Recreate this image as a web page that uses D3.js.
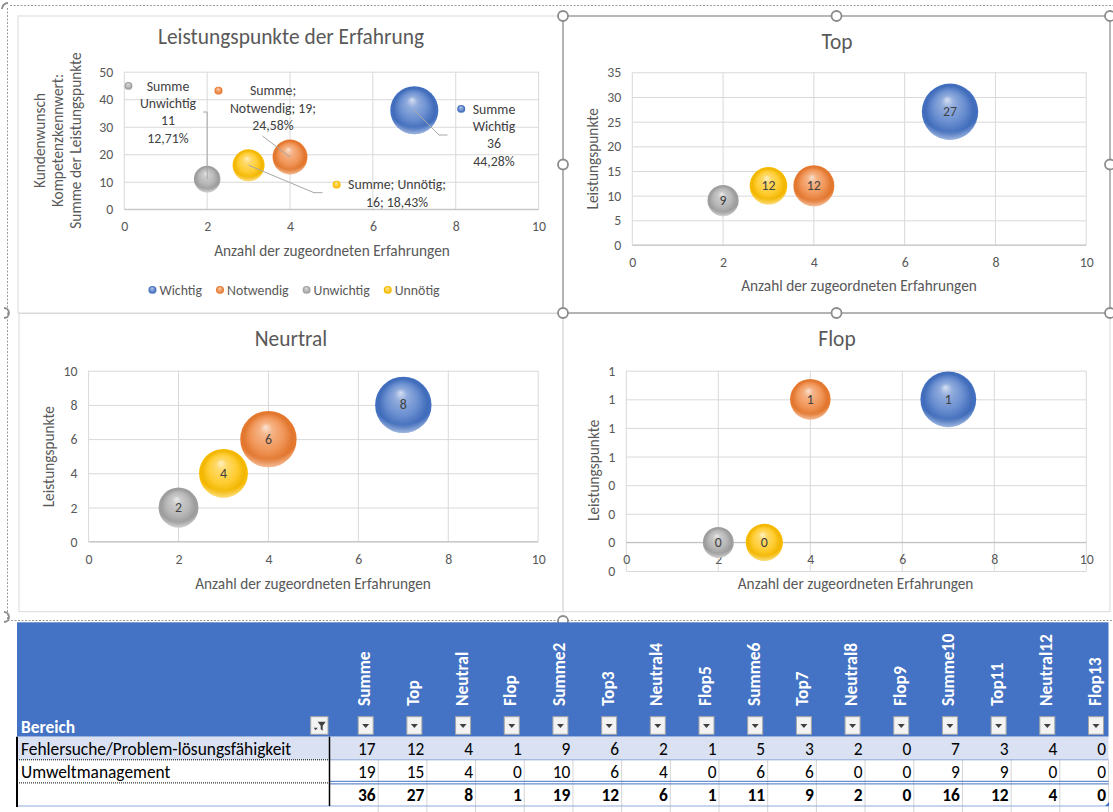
<!DOCTYPE html>
<html>
<head>
<meta charset="utf-8">
<script src="https://cdn.jsdelivr.net/npm/d3@7"></script>
<style>
  html, body { margin: 0; padding: 0; background: #fff; }
  svg { display: block; }
  text { font-family: Carlito, Lato, "Open Sans", sans-serif; }
</style>
</head>
<body>
<svg id="sheet" width="1113" height="812"></svg>
<script>
// ---------- data ----------
const seriesNames   = ["Wichtig", "Notwendig", "Unwichtig", "Unnötig"];
const seriesColors  = ["#4472C4", "#ED7D31", "#A5A5A5", "#FFC000"];
const erfahrungen   = [7, 4, 2, 3];          // Anzahl der zugeordneten Erfahrungen
const summePunkte   = [36, 19, 11, 16];
const topPunkte     = [27, 12, 9, 12];
const neutralPunkte = [8, 6, 2, 4];
const flopPunkte    = [1, 1, 0, 0];
const neutralBubble = [8, 8, 4, 6];          // bubble sizes used in the Neutral chart
const summeAnteil   = ["44,28%", "24,58%", "12,71%", "18,43%"];

const xTicks       = [0, 2, 4, 6, 8, 10];
const summeTicks   = [0, 10, 20, 30, 40, 50];
const topTicks     = [0, 5, 10, 15, 20, 25, 30, 35];
const neutralTicks = [0, 2, 4, 6, 8, 10];
const flopTicks    = [-0.2, 0, 0.2, 0.4, 0.6, 0.8, 1.0, 1.2];

const tableHeaders = ["Summe", "Top", "Neutral", "Flop", "Summe2", "Top3", "Neutral4", "Flop5",
                      "Summe6", "Top7", "Neutral8", "Flop9", "Summe10", "Top11", "Neutral12", "Flop13"];
const bereiche       = ["Fehlersuche/Problem-lösungsfähigkeit", "Umweltmanagement", ""];
const fehlersucheRow = [17, 12, 4, 1, 9, 6, 2, 1, 5, 3, 2, 0, 7, 3, 4, 0];
const umweltRow      = [19, 15, 4, 0, 10, 6, 4, 0, 6, 6, 0, 0, 9, 9, 0, 0];
const ergebnisRow    = [36, 27, 8, 1, 19, 12, 6, 1, 11, 9, 2, 0, 16, 12, 4, 0];

// ---------- drawing ----------
const svg = d3.select("#sheet");
const TXT = "#595959";
const FS_TITLE = 21.4, FS_AXIS = 15.3, FS_TICK = 13.8, FS_CELL = 17.4;

// sphere-like fills for the bubbles
const defs = svg.append("defs");
seriesColors.forEach((c, i) => {
  const base = d3.color(c);
  const mix = t => d3.interpolateRgb(c, "#fff")(t);
  const g = defs.append("radialGradient").attr("id", "ball" + i)
    .attr("cx", "50%").attr("cy", "50%").attr("r", "50%").attr("fx", "45%").attr("fy", "28%");
  g.append("stop").attr("offset", "0%").attr("stop-color", mix(0.78));
  g.append("stop").attr("offset", "22%").attr("stop-color", mix(0.42));
  g.append("stop").attr("offset", "58%").attr("stop-color", mix(0.2));
  g.append("stop").attr("offset", "86%").attr("stop-color", base.darker(0.15));
  g.append("stop").attr("offset", "100%").attr("stop-color", base.darker(0.05));
});
const rim = defs.append("radialGradient").attr("id", "rim")
  .attr("cx", "50%").attr("cy", "22%").attr("r", "78%");
rim.append("stop").attr("offset", "80%").attr("stop-color", "#fff").attr("stop-opacity", 0);
rim.append("stop").attr("offset", "100%").attr("stop-color", "#fff").attr("stop-opacity", 0.5);

function ball(g, cx, cy, r, i) {
  g.append("circle").attr("cx", cx).attr("cy", cy).attr("r", r).attr("fill", `url(#ball${i})`);
  g.append("circle").attr("cx", cx).attr("cy", cy).attr("r", r).attr("fill", "url(#rim)");
}

// sheet frame of the chart group
svg.append("path").attr("d", "M10,5.5H1113M7.5,8V621M7.5,620.5H1113")
  .attr("fill", "none").attr("stroke", "#9a9a9a").attr("stroke-dasharray", "2,1.5");

// chart boxes
const boxes = [
  { x: 18, y: 16, w: 545, h: 297, c: "#d9d9d9", sw: 1 },
  { x: 19, y: 313.5, w: 544, h: 298.2, c: "#d9d9d9", sw: 1 },
  { x: 563, y: 313, w: 547, h: 298.7, c: "#d9d9d9", sw: 1 },
  { x: 563, y: 16, w: 547, h: 297, c: "#a6a6a6", sw: 1.6 }
];
svg.append("g").selectAll("rect").data(boxes).join("rect")
  .attr("x", d => d.x).attr("y", d => d.y).attr("width", d => d.w).attr("height", d => d.h)
  .attr("fill", "none").attr("stroke", d => d.c).attr("stroke-width", d => d.sw);

function bubbleChart(cfg) {
  const g = svg.append("g");
  const P = cfg.plot;
  const x = d3.scaleLinear().domain([0, 10]).range([P.l, P.r]);
  const y = d3.scaleLinear().domain([cfg.yTicks[0], cfg.yTicks[cfg.yTicks.length - 1]]).range([P.b, P.t]);
  const r = d3.scaleSqrt().domain([0, d3.max(cfg.sizes)]).range([0, cfg.maxR]);
  const fmt = cfg.yFormat || (d => String(d));

  // horizontal grid + value labels
  const ya = g.append("g").attr("transform", `translate(${P.l},0)`)
    .call(d3.axisLeft(y).tickValues(cfg.yTicks).tickSize(-(P.r - P.l)).tickPadding(11).tickFormat(fmt));
  ya.select(".domain").remove();
  ya.selectAll("line").attr("stroke", "#d9d9d9");
  ya.selectAll("text").attr("fill", TXT).attr("font-size", FS_TICK).attr("dy", null)
    .attr("dominant-baseline", "central").attr("font-family", null);

  // vertical grid
  g.append("g").selectAll("line").data(xTicks).join("line")
    .attr("x1", d => x(d)).attr("x2", d => x(d)).attr("y1", P.t).attr("y2", P.b)
    .attr("stroke", "#d9d9d9");

  // horizontal axis, crossing the value axis at zero
  const axisY = y(0);
  g.append("line").attr("x1", P.l).attr("x2", P.r).attr("y1", axisY).attr("y2", axisY)
    .attr("stroke", "#bfbfbf");
  const xa = g.append("g").attr("transform", `translate(0,${axisY})`)
    .call(d3.axisBottom(x).tickValues(xTicks).tickSize(0).tickPadding(0));
  xa.select(".domain").remove();
  xa.selectAll("text").attr("fill", TXT).attr("font-size", FS_TICK).attr("y", 17.5).attr("dy", null)
    .attr("dominant-baseline", "central").attr("font-family", null);

  // titles
  g.append("text").attr("x", cfg.title[0]).attr("y", cfg.title[1]).attr("text-anchor", "middle")
    .attr("dominant-baseline", "central").attr("font-size", FS_TITLE).attr("fill", TXT).text(cfg.titleText);
  g.append("text").attr("x", cfg.xTitle[0]).attr("y", cfg.xTitle[1]).attr("text-anchor", "middle")
    .attr("dominant-baseline", "central").attr("font-size", FS_AXIS).attr("fill", TXT)
    .text("Anzahl der zugeordneten Erfahrungen");
  cfg.yTitleLines.forEach((t, k) => {
    const tx = cfg.yTitleX[k], ty = cfg.yTitleY;
    g.append("text").attr("x", tx).attr("y", ty).attr("transform", `rotate(-90,${tx},${ty})`)
      .attr("text-anchor", "middle").attr("dominant-baseline", "central")
      .attr("font-size", FS_AXIS).attr("fill", TXT).text(t);
  });

  // bubbles
  const pts = seriesNames.map((n, i) => ({ i, n, xv: erfahrungen[i], yv: cfg.values[i], s: cfg.sizes[i] }));
  const bg = g.append("g");
  pts.forEach(p => ball(bg, x(p.xv), y(p.yv), r(p.s), p.i));
  if (cfg.valueLabels) {
    g.append("g").selectAll("text").data(pts).join("text")
      .attr("x", p => x(p.xv)).attr("y", p => y(p.yv)).attr("text-anchor", "middle")
      .attr("dominant-baseline", "central").attr("font-size", FS_TICK).attr("fill", "#404040")
      .text(p => String(p.yv));
  }
  return { g, x, y, pts };
}

// ---- chart 1: Leistungspunkte der Erfahrung ----
const c1 = bubbleChart({
  plot: { l: 124.3, r: 538.6, t: 71.7, b: 209.3 },
  yTicks: summeTicks, values: summePunkte, sizes: summePunkte, maxR: 24,
  titleText: "Leistungspunkte der Erfahrung", title: [291, 36.7], xTitle: [332, 250.7],
  yTitleLines: ["Kundenwunsch", "Kompetenzkennwert:", "Summe der Leistungspunkte"],
  yTitleX: [39, 57, 75], yTitleY: 140.5, valueLabels: false
});

// data labels with leader lines
const labelLayout = [
  { cx: 494, top: 109, groups: [[0], [1], [2], [3]], semi: false, leader: p => [p, [439, 135], [447.5, 135]] },
  { cx: 273, top: 90.7, groups: [[0], [1, 2], [3]], semi: true, leader: p => [[262.5, 136], p] },
  { cx: 168, top: 86, groups: [[0], [1], [2], [3]], semi: false, leader: p => [[203, 112], [p[0], 112], p] },
  { cx: 397, top: 184.7, groups: [[0, 1], [2, 3]], semi: true, leader: p => [p, [314, 192.7], [322.5, 192.7]] }
];
const lab = c1.g.append("g");
c1.pts.forEach(p => {
  const L = labelLayout[p.i];
  const parts = ["Summe", p.n, String(p.yv), summeAnteil[p.i]];
  const lines = L.groups.map((grp, k) => {
    let s = grp.map(j => parts[j]).join(L.semi ? "; " : " ");
    if (L.semi && k < L.groups.length - 1) s += ";";
    return s;
  });
  const center = [c1.x(p.xv), c1.y(p.yv)];
  lab.append("path").attr("d", d3.line()(L.leader(center))).attr("fill", "none")
    .attr("stroke", "#a6a6a6").attr("stroke-width", 1);
  const ts = lab.append("g").selectAll("text").data(lines).join("text")
    .attr("x", L.cx).attr("y", (d, k) => L.top + k * 17.4).attr("dominant-baseline", "central")
    .attr("text-anchor", "middle").attr("font-size", FS_TICK).attr("fill", "#404040").text(d => d);
  const w = d3.max(ts.nodes(), n => n.getComputedTextLength());
  ball(lab, L.cx - w / 2 - 11.5, L.top, 4, p.i);
});

// legend
const leg = c1.g.append("g");
let lx = 0;
seriesNames.forEach((n, i) => {
  const it = leg.append("g");
  ball(it, 4, 0, 4, i);
  const t = it.append("text").attr("x", 11).attr("dominant-baseline", "central").attr("font-size", FS_TICK)
    .attr("fill", TXT).text(n);
  const w = 11 + t.node().getComputedTextLength();
  it.attr("transform", `translate(${lx},290)`);
  lx += w + 14;
});
const legW = lx - 14;
leg.attr("transform", `translate(${294 - legW / 2},0)`);

// ---- chart 2: Top ----
bubbleChart({
  plot: { l: 632.3, r: 1086.2, t: 72.3, b: 245 },
  yTicks: topTicks, values: topPunkte, sizes: summePunkte, maxR: 28.2,
  titleText: "Top", title: [837, 41.7], xTitle: [859, 285.7],
  yTitleLines: ["Leistungspunkte"], yTitleX: [592.8], yTitleY: 158.8, valueLabels: true
});

// ---- chart 3: Neutral ----
bubbleChart({
  plot: { l: 88.6, r: 538.2, t: 370.7, b: 541.7 },
  yTicks: neutralTicks, values: neutralPunkte, sizes: neutralBubble, maxR: 28.2,
  titleText: "Neurtral", title: [291, 339], xTitle: [313, 583.3],
  yTitleLines: ["Leistungspunkte"], yTitleX: [49], yTitleY: 456.7, valueLabels: true
});

// ---- chart 4: Flop ----
bubbleChart({
  plot: { l: 626.3, r: 1086.3, t: 370.7, b: 571 },
  yTicks: flopTicks, values: flopPunkte, sizes: summePunkte, maxR: 27.9,
  yFormat: d => String(Math.abs(Math.round(d))),
  titleText: "Flop", title: [837, 339.3], xTitle: [855.6, 583.3],
  yTitleLines: ["Leistungspunkte"], yTitleX: [593.5], yTitleY: 470.3, valueLabels: true
});

// selection handles of the active chart
const handles = [[563, 16], [836.5, 16], [1110, 16], [563, 164.5], [1110, 164.5],
                 [563, 313], [836.5, 313], [1110, 313], [563, 621]];
svg.append("g").selectAll("circle").data(handles).join("circle")
  .attr("cx", d => d[0]).attr("cy", d => d[1]).attr("r", 5)
  .attr("fill", "#fff").attr("stroke", "#8c8c8c").attr("stroke-width", 1.8);
svg.append("path").attr("d", "M4,308a5,5 0 0 1 0,10M4,612a5,5 0 0 1 0,10M2,9a6,6 0 0 1 6,-6")
  .attr("fill", "none").attr("stroke", "#8c8c8c").attr("stroke-width", 1.8);

// ---------- table ----------
const T = svg.append("g");
const tL = 17, tR = 1108.5, colStart = 329.5;
const col = d3.scaleBand().domain(tableHeaders).range([colStart, tR]);
const rowY = d3.scaleBand().domain([0, 1, 2]).range([736.7, 806]);
const rows = [fehlersucheRow, umweltRow, ergebnisRow];

T.append("rect").attr("x", tL).attr("y", 622.3).attr("width", tR - tL).attr("height", 736.7 - 622.3)
  .attr("fill", "#4472C4");
T.append("rect").attr("x", tL).attr("y", rowY(0)).attr("width", tR - tL).attr("height", rowY.bandwidth())
  .attr("fill", "#D9E1F2");

// sheet gridlines in the white rows
T.append("g").selectAll("line").data(tableHeaders).join("line")
  .attr("x1", d => col(d) + col.bandwidth()).attr("x2", d => col(d) + col.bandwidth())
  .attr("y1", rowY(1)).attr("y2", 812).attr("stroke", "#d4d4d4");

T.append("text").attr("x", 21).attr("y", 727).attr("dominant-baseline", "central")
  .attr("font-size", FS_CELL).attr("font-weight", "bold").attr("fill", "#fff").text("Bereich");

// filter button on "Bereich"
const fb = T.append("g").attr("transform", "translate(310.7,716.7)");
fb.append("rect").attr("width", 17.3).attr("height", 17.6).attr("fill", "#f3f3f3").attr("stroke", "#a6a6a6");
fb.append("path").attr("d", "M7,5H15L12,9V14L10,12.5V9Z").attr("fill", "#404040");
fb.append("path").attr("d", "M3,11H7L5,13.5Z").attr("fill", "#404040");

// column headers with drop-down buttons
const hg = T.append("g").selectAll("g").data(tableHeaders).join("g");
hg.append("text")
  .attr("transform", d => `translate(${col(d) + col.bandwidth() - 14},706) rotate(-90)`)
  .attr("dominant-baseline", "central").attr("font-size", FS_CELL).attr("font-weight", "bold")
  .attr("fill", "#fff").text(d => d);
hg.append("rect").attr("x", d => col(d) + col.bandwidth() - 20).attr("y", 716.7)
  .attr("width", 15).attr("height", 17.6).attr("fill", "#f3f3f3").attr("stroke", "#a6a6a6");
hg.append("path").attr("d", d => {
  const cx = col(d) + col.bandwidth() - 12.5, cy = 725.5;
  return `M${cx - 3.5},${cy - 1.5}H${cx + 3.5}L${cx},${cy + 2.5}Z`;
}).attr("fill", "#404040");

// row labels and values
bereiche.forEach((b, k) => {
  T.append("text").attr("x", 21).attr("y", rowY(k) + rowY.bandwidth() / 2 + 0.5)
    .attr("dominant-baseline", "central").attr("font-size", FS_CELL).attr("fill", "#000").text(b);
  T.append("g").selectAll("text").data(rows[k]).join("text")
    .attr("x", (d, j) => col(tableHeaders[j]) + col.bandwidth() - 2.5)
    .attr("y", rowY(k) + rowY.bandwidth() / 2 + 0.5)
    .attr("text-anchor", "end").attr("dominant-baseline", "central").attr("font-size", FS_CELL)
    .attr("font-weight", k === 2 ? "bold" : null).attr("fill", "#000").text(d => d);
});

// table borders
T.append("line").attr("x1", colStart).attr("x2", tR).attr("y1", rowY(1)).attr("y2", rowY(1))
  .attr("stroke", "#8EA9DB");
T.append("line").attr("x1", colStart).attr("x2", tR).attr("y1", rowY(2) - 1.6).attr("y2", rowY(2) - 1.6)
  .attr("stroke", "#4472C4");
T.append("line").attr("x1", colStart).attr("x2", tR).attr("y1", rowY(2) + 1).attr("y2", rowY(2) + 1)
  .attr("stroke", "#4472C4");
T.append("line").attr("x1", tL).attr("x2", tR).attr("y1", 806).attr("y2", 806).attr("stroke", "#8EA9DB");
T.append("g").selectAll("line").data([rowY(1), rowY(2)]).join("line")
  .attr("x1", tL).attr("x2", colStart).attr("y1", d => d).attr("y2", d => d)
  .attr("stroke", "#000").attr("stroke-dasharray", "1,1");
T.append("line").attr("x1", tL).attr("x2", tL).attr("y1", 736.7).attr("y2", 807)
  .attr("stroke", "#000").attr("stroke-width", 2);
T.append("line").attr("x1", colStart).attr("x2", colStart).attr("y1", 736.7).attr("y2", 806)
  .attr("stroke", "#000").attr("stroke-width", 1.5);
T.append("path").attr("d", "M1109,802V806H1105Z").attr("fill", "#4472C4");
</script>
</body>
</html>
